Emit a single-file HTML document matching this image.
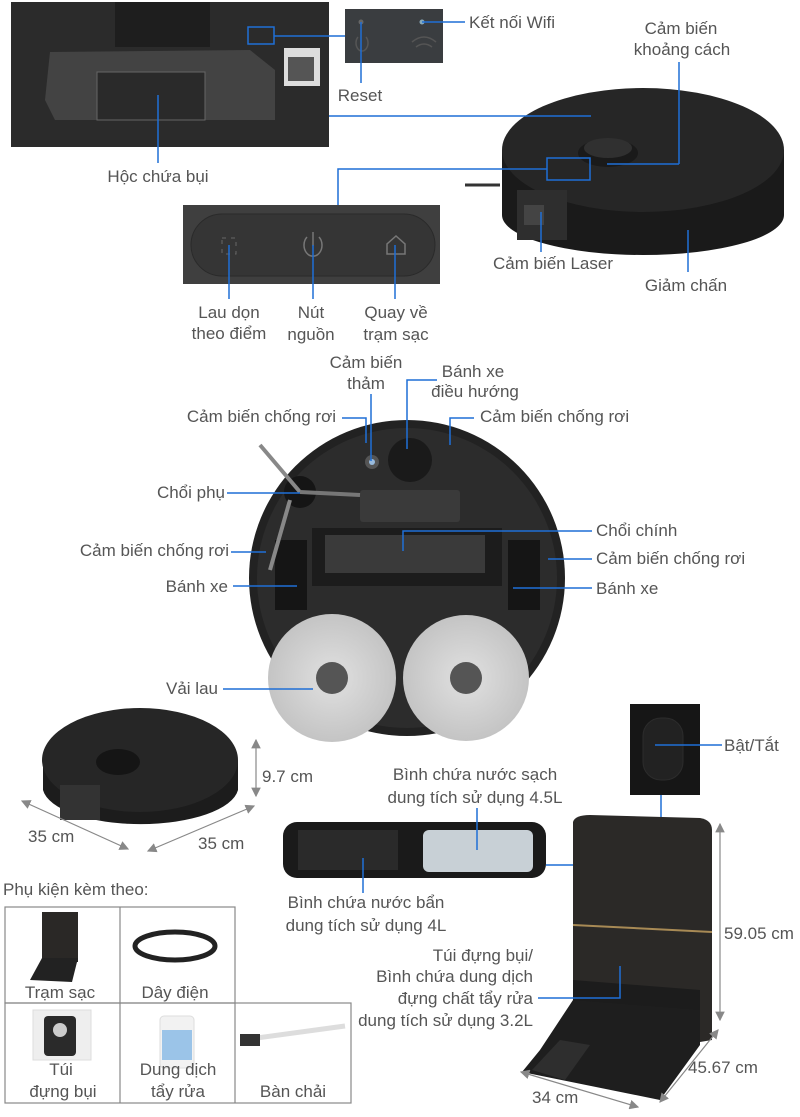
<!DOCTYPE html>
<html><head><meta charset="utf-8"><style>
html,body{margin:0;padding:0;background:#fff;}
svg{display:block;}
.n{font-family:"Liberation Sans Narrow","Liberation Sans",sans-serif;font-size:17px;fill:#555;}
.r{font-family:"Liberation Sans",sans-serif;font-size:17px;fill:#555;}
.l{stroke:#1f6fd6;stroke-width:1.5;fill:none;}
.g{stroke:#888;stroke-width:1.2;fill:none;}
</style></head><body>
<svg width="800" height="1117" viewBox="0 0 800 1117" xmlns="http://www.w3.org/2000/svg">
<defs>
<marker id="a" markerWidth="8" markerHeight="8" refX="7" refY="4" orient="auto"><path d="M0,0 L8,4 L0,8 Z" fill="#888"/></marker>
<marker id="b" markerWidth="8" markerHeight="8" refX="1" refY="4" orient="auto"><path d="M8,0 L0,4 L8,8 Z" fill="#888"/></marker>
<radialGradient id="mop"><stop offset="0.3" stop-color="#d8d8d8"/><stop offset="1" stop-color="#c4c4c4"/></radialGradient>
</defs>

<rect x="11" y="2" width="318" height="145" fill="#2b2b2b"/>
<rect x="115" y="2" width="95" height="45" fill="#1e1e1e"/>
<path d="M50,52 L250,50 L275,70 L275,120 L55,120 L45,100 Z" fill="#4a4a4a" opacity="0.8"/>
<rect x="97" y="72" width="108" height="48" fill="#2a2a2a" stroke="#666"/>
<rect x="284" y="48" width="36" height="38" fill="#ddd"/>
<rect x="288" y="57" width="26" height="24" fill="#555"/>
<rect x="248" y="27" width="26" height="17" class="l"/>
<line x1="274" y1="36" x2="345" y2="36" class="l"/>
<rect x="345" y="9" width="98" height="54" fill="#3a3d40"/>
<circle cx="361" cy="22" r="2.5" fill="#666"/>
<circle cx="422" cy="22" r="2.5" fill="#8ab"/>
<path d="M358,37 a6,8 0 1 0 8,0" stroke="#555" fill="none" stroke-width="1.5"/>
<path d="M412,42 q12,-10 24,0 M416,47 q8,-6 16,0" stroke="#555" fill="none" stroke-width="1.5"/>
<line x1="361" y1="22" x2="361" y2="83" class="l"/>
<line x1="422" y1="22" x2="465" y2="22" class="l"/>
<text x="469" y="28" class="n">Kết nối Wifi</text>
<text x="360" y="101" class="n" text-anchor="middle">Reset</text>
<text x="681" y="34" class="n" text-anchor="middle">Cảm biến</text>
<text x="682" y="55" class="n" text-anchor="middle">khoảng cách</text>
<line x1="158" y1="95" x2="158" y2="163" class="l"/>
<text x="158" y="182" class="n" text-anchor="middle">Hộc chứa bụi</text>

<path d="M502,150 L502,215 A141,40 0 0 0 784,215 L784,150 Z" fill="#1a1a1a"/>
<ellipse cx="643" cy="150" rx="141" ry="62" fill="#262626"/>
<ellipse cx="608" cy="153" rx="30" ry="14" fill="#1a1a1a"/>
<ellipse cx="608" cy="148" rx="24" ry="10" fill="#303030"/>
<rect x="517" y="190" width="50" height="50" fill="#2e2e2e"/>
<rect x="524" y="205" width="20" height="20" fill="#444"/>
<path d="M465,185 L500,185" stroke="#333" stroke-width="3"/>
<line x1="329" y1="116" x2="591" y2="116" class="l"/>
<line x1="679" y1="62" x2="679" y2="164" class="l"/>
<line x1="679" y1="164" x2="607" y2="164" class="l"/>
<rect x="547" y="158" width="43" height="22" class="l"/>
<polyline points="547,169 338,169 338,205" class="l"/>
<line x1="541" y1="212" x2="541" y2="252" class="l"/>
<text x="553" y="269" class="n" text-anchor="middle">Cảm biến Laser</text>
<line x1="688" y1="230" x2="688" y2="272" class="l"/>
<text x="686" y="291" class="n" text-anchor="middle">Giảm chấn</text>

<rect x="183" y="205" width="257" height="79" fill="#3f3f3f"/>
<rect x="191" y="214" width="244" height="62" rx="31" fill="#353535" stroke="#2a2a2a"/>
<rect x="222" y="238" width="14" height="16" fill="none" stroke="#666" stroke-dasharray="4,5"/>
<path d="M307,237 a9,11 0 1 0 12,0 M313,232 v14" stroke="#777" fill="none" stroke-width="1.5"/>
<path d="M387,254 v-10 l9,-8 l9,8 v10 z" stroke="#777" fill="none" stroke-width="1.5"/>
<line x1="229" y1="245" x2="229" y2="299" class="l"/>
<line x1="313" y1="245" x2="313" y2="299" class="l"/>
<line x1="395" y1="245" x2="395" y2="299" class="l"/>
<text x="229" y="318" class="n" text-anchor="middle">Lau dọn</text>
<text x="229" y="339" class="n" text-anchor="middle">theo điểm</text>
<text x="311" y="318" class="n" text-anchor="middle">Nút</text>
<text x="311" y="340" class="n" text-anchor="middle">nguồn</text>
<text x="396" y="318" class="n" text-anchor="middle">Quay về</text>
<text x="396" y="340" class="n" text-anchor="middle">trạm sạc</text>

<circle cx="407" cy="578" r="158" fill="#222"/>
<circle cx="407" cy="578" r="150" fill="#2c2c2c"/>
<circle cx="372" cy="462" r="7" fill="#555"/><circle cx="372" cy="462" r="3" fill="#9bd"/>
<circle cx="410" cy="460" r="22" fill="#1a1a1a"/>
<rect x="360" y="490" width="100" height="32" rx="3" fill="#3a3a3a"/>
<rect x="312" y="528" width="190" height="58" fill="#1c1c1c"/>
<rect x="325" y="535" width="160" height="38" fill="#3a3a3a"/>
<rect x="275" y="540" width="32" height="70" fill="#151515"/>
<rect x="508" y="540" width="32" height="70" fill="#151515"/>
<circle cx="300" cy="492" r="16" fill="#151515"/>
<line x1="260" y1="445" x2="300" y2="492" stroke="#888" stroke-width="4"/>
<line x1="300" y1="492" x2="360" y2="495" stroke="#777" stroke-width="4"/>
<line x1="270" y1="570" x2="290" y2="500" stroke="#888" stroke-width="4"/>
<circle cx="332" cy="678" r="64" fill="url(#mop)"/>
<circle cx="332" cy="678" r="16" fill="#555"/>
<circle cx="466" cy="678" r="63" fill="url(#mop)"/>
<circle cx="466" cy="678" r="16" fill="#555"/>
<text x="366" y="368" class="r" text-anchor="middle">Cảm biến</text>
<text x="366" y="389" class="r" text-anchor="middle">thảm</text>
<line x1="371" y1="394" x2="371" y2="461" class="l"/>
<text x="473" y="377" class="r" text-anchor="middle">Bánh xe</text>
<text x="475" y="397" class="r" text-anchor="middle">điều hướng</text>
<polyline points="437,380 407,380 407,449" class="l"/>
<text x="336" y="422" class="r" text-anchor="end">Cảm biến chống rơi</text>
<polyline points="342,418 366,418 366,443" class="l"/>
<text x="480" y="422" class="r">Cảm biến chống rơi</text>
<polyline points="474,418 450,418 450,445" class="l"/>
<text x="225" y="498" class="r" text-anchor="end">Chổi phụ</text>
<line x1="227" y1="493" x2="300" y2="493" class="l"/>
<text x="229" y="556" class="r" text-anchor="end">Cảm biến chống rơi</text>
<line x1="231" y1="552" x2="266" y2="552" class="l"/>
<text x="228" y="592" class="r" text-anchor="end">Bánh xe</text>
<line x1="233" y1="586" x2="297" y2="586" class="l"/>
<text x="218" y="694" class="r" text-anchor="end">Vải lau</text>
<line x1="223" y1="689" x2="313" y2="689" class="l"/>
<text x="596" y="536" class="r">Chổi chính</text>
<polyline points="592,531 403,531 403,551" class="l"/>
<text x="596" y="564" class="r">Cảm biến chống rơi</text>
<line x1="548" y1="559" x2="592" y2="559" class="l"/>
<text x="596" y="594" class="r">Bánh xe</text>
<line x1="513" y1="588" x2="592" y2="588" class="l"/>

<path d="M43,760 L43,790 A98,38 0 0 0 238,790 L238,760 Z" fill="#1c1c1c"/>
<ellipse cx="140" cy="760" rx="98" ry="52" fill="#262626"/>
<ellipse cx="118" cy="762" rx="22" ry="13" fill="#151515"/>
<rect x="60" y="785" width="40" height="35" fill="#333"/>
<line x1="256" y1="740" x2="256" y2="796" class="g" marker-start="url(#b)" marker-end="url(#a)"/>
<text x="262" y="782" class="n">9.7 cm</text>
<line x1="22" y1="801" x2="128" y2="849" class="g" marker-start="url(#b)" marker-end="url(#a)"/>
<line x1="148" y1="851" x2="254" y2="806" class="g" marker-start="url(#b)" marker-end="url(#a)"/>
<text x="28" y="842" class="n">35 cm</text>
<text x="198" y="849" class="n">35 cm</text>

<text x="3" y="895" class="n">Phụ kiện kèm theo:</text>
<g stroke="#888" stroke-width="1.2" fill="none">
<rect x="5" y="907" width="230" height="96"/>
<line x1="120" y1="907" x2="120" y2="1103"/>
<rect x="5" y="1003" width="346" height="100"/>
<line x1="235" y1="1003" x2="235" y2="1103"/>
</g>
<rect x="42" y="912" width="36" height="50" fill="#2a2826"/>
<path d="M30,980 L42,958 L78,958 L72,982 Z" fill="#222"/>
<ellipse cx="175" cy="946" rx="40" ry="14" fill="none" stroke="#222" stroke-width="5"/>
<rect x="33" y="1010" width="58" height="50" fill="#eee" stroke="#ddd"/>
<rect x="44" y="1016" width="32" height="40" rx="4" fill="#2a2a2a"/>
<circle cx="60" cy="1030" r="7" fill="#ccc"/>
<rect x="160" y="1016" width="34" height="52" rx="4" fill="#f2f2f2" stroke="#ddd"/>
<rect x="162" y="1030" width="30" height="30" fill="#9bc4e8"/>
<path d="M242,1040 L345,1026" stroke="#ddd" stroke-width="5"/>
<rect x="240" y="1034" width="20" height="12" fill="#333"/>
<text x="60" y="998" class="n" text-anchor="middle">Trạm sạc</text>
<text x="175" y="998" class="n" text-anchor="middle">Dây điện</text>
<text x="61" y="1075" class="n" text-anchor="middle">Túi</text>
<text x="63" y="1097" class="n" text-anchor="middle">đựng bụi</text>
<text x="178" y="1075" class="n" text-anchor="middle">Dung dịch</text>
<text x="178" y="1097" class="n" text-anchor="middle">tẩy rửa</text>
<text x="293" y="1097" class="n" text-anchor="middle">Bàn chải</text>

<rect x="630" y="704" width="70" height="91" fill="#161616"/>
<rect x="643" y="718" width="40" height="62" rx="18" fill="#222" stroke="#2c2c2c"/>
<line x1="655" y1="745" x2="722" y2="745" class="l"/>
<text x="724" y="751" class="n">Bật/Tắt</text>
<line x1="661" y1="795" x2="661" y2="818" class="l"/>

<rect x="283" y="822" width="263" height="56" rx="14" fill="#1a1a1a"/>
<rect x="298" y="830" width="100" height="40" fill="#2a2a2a"/>
<rect x="423" y="830" width="110" height="42" rx="6" fill="#c8d0d6"/>
<line x1="477" y1="808" x2="477" y2="850" class="l"/>
<text x="475" y="780" class="n" text-anchor="middle">Bình chứa nước sạch</text>
<text x="475" y="803" class="n" text-anchor="middle">dung tích sử dụng 4.5L</text>
<line x1="363" y1="858" x2="363" y2="893" class="l"/>
<text x="366" y="908" class="n" text-anchor="middle">Bình chứa nước bẩn</text>
<text x="366" y="931" class="n" text-anchor="middle">dung tích sử dụng 4L</text>
<line x1="546" y1="865" x2="640" y2="865" class="l"/>

<path d="M573,822 Q575,815 590,815 L700,818 Q712,820 712,830 L712,1040 L700,1042 L573,1000 Z" fill="#2b2927"/>
<line x1="573" y1="925" x2="712" y2="932" stroke="#a88a55" stroke-width="2"/>
<path d="M573,980 L700,990 L700,1045 L573,1025 Z" fill="#1c1c1c"/>
<path d="M540,1050 L573,1000 L700,1010 L700,1045 L660,1100 L522,1072 Z" fill="#1e1e1e"/>
<path d="M532,1070 L560,1040 L590,1045 L565,1080 Z" fill="#2e2e2e"/>
<line x1="720" y1="824" x2="720" y2="1020" class="g" marker-start="url(#b)" marker-end="url(#a)"/>
<text x="724" y="939" class="n">59.05 cm</text>
<line x1="718" y1="1030" x2="660" y2="1102" class="g" marker-start="url(#b)" marker-end="url(#a)"/>
<text x="688" y="1073" class="n">45.67 cm</text>
<line x1="521" y1="1072" x2="638" y2="1107" class="g" marker-start="url(#b)" marker-end="url(#a)"/>
<text x="532" y="1103" class="n">34 cm</text>
<polyline points="538,998 620,998 620,966" class="l"/>
<text x="533" y="961" class="n" text-anchor="end">Túi đựng bụi/</text>
<text x="533" y="982" class="n" text-anchor="end">Bình chứa dung dịch</text>
<text x="533" y="1004" class="n" text-anchor="end">đựng chất tẩy rửa</text>
<text x="533" y="1026" class="n" text-anchor="end">dung tích sử dụng 3.2L</text>
</svg>
</body></html>
